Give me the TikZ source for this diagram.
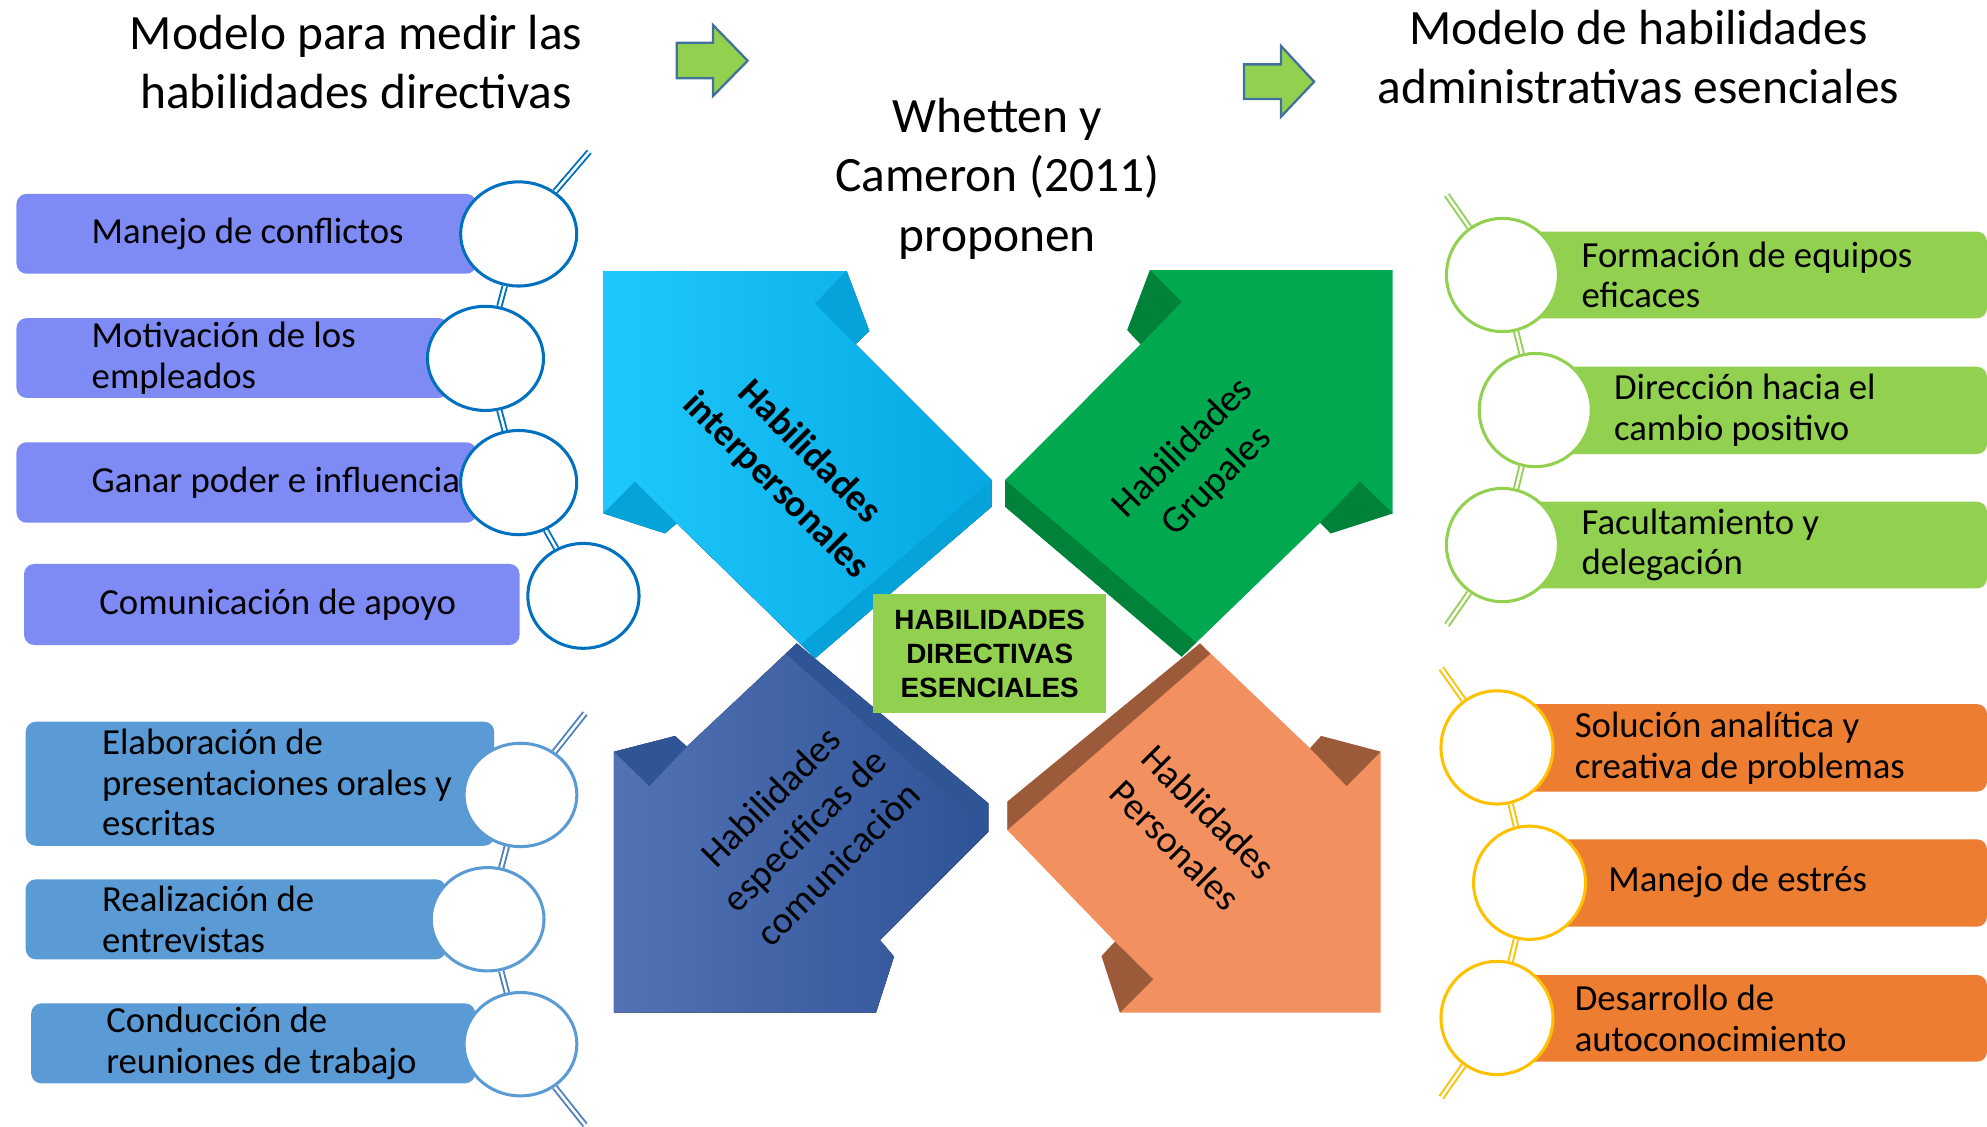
\documentclass[tikz,border=0pt]{standalone}
\usepackage{fontspec}
\setmainfont{Carlito}
\newfontfamily\capsfont{Liberation Sans}
\usetikzlibrary{shapes.geometric}

\definecolor{itemA}{HTML}{7E8BF4}
\definecolor{ringA}{HTML}{0070C0}
\definecolor{itemB}{HTML}{5B9BD5}
\definecolor{linkB}{HTML}{4F81BD}
\definecolor{itemC}{HTML}{92D050}
\definecolor{itemD}{HTML}{ED7D31}
\definecolor{ringD}{HTML}{FFC000}
\definecolor{pointerline}{HTML}{41719C}
\definecolor{skyL}{HTML}{1EC8FC}
\definecolor{skyR}{HTML}{05A8E2}
\definecolor{skyD}{HTML}{06A2DA}
\definecolor{grnM}{HTML}{00A84F}
\definecolor{grnD}{HTML}{00823A}
\definecolor{navL}{HTML}{5272B5}
\definecolor{navR}{HTML}{2D5396}
\definecolor{navD}{HTML}{2F5597}
\definecolor{orgM}{HTML}{F2915F}
\definecolor{orgD}{HTML}{9B5A3A}

\begin{document}
\begin{tikzpicture}[x=0.5pt, y=-0.5pt,
    heading/.style={align=center, inner sep=0pt, font=\fontsize{19.5}{23.6}\selectfont},
    itemtext/.style={anchor=west, align=left, inner sep=0pt, font=\fontsize{14.5}{16}\selectfont},
    arrowtext/.style={align=center, inner sep=0pt, font=\fontsize{15}{18.7}\selectfont},
    ring/.style={ellipse, fill=white, line width=1.2pt, inner sep=0pt, minimum width=45.8pt, minimum height=41.1pt},
    roundring/.style={ring, minimum width=44.2pt, minimum height=44.7pt},
    link/.style={line width=0.75pt, double=white, double distance=1pt},
    strip/.style={rounded corners=4pt}]
  \useasboundingbox (0,0) rectangle (1568,889);

  % titles
  \node[heading] (leftTitle) at (281,49) {Modelo para medir las\\habilidades directivas};
  \node[heading] (rightTitle) at (1293,45) {Modelo de habilidades\\administrativas esenciales};
  \node[heading] (authors) at (787,141) {Whetten y\\Cameron (2011)\\proponen};
  \draw[fill=itemC, draw=pointerline, line width=0.9pt]
    (534,33.7) -- (562.6,33.7) -- (562.6,19.7) -- (590,47.9) -- (562.6,75.8) -- (562.6,61.8) -- (534,61.8) -- cycle;
  \draw[fill=itemC, draw=pointerline, line width=0.9pt]
    (981.6,50.8) -- (1010.9,50.8) -- (1010.9,36.3) -- (1037,64.5) -- (1010.9,92.1) -- (1010.9,78.1) -- (981.6,78.1) -- cycle;

  % four arrows round the centre
  \fill[left color=navL, right color=navR] (484.5,799.1) -- (691.3,799.1) -- (705.5,754.9) -- (694.4,741.8) -- (779.9,656.3)
    -- (779.9,633.9) -- (628.7,507.7) -- (541.9,589.2) -- (532.7,580.8) -- (484.5,593.2) -- cycle;
  \fill[navD] (484.5,593.2) -- (532.7,580.8) -- (541.9,589.2) -- (512.4,620.3) -- cycle;
  \fill[navD] (779.9,633.9) -- (628.7,507.7) -- (620,515.8) -- (779.9,656.3) -- cycle;
  \node[arrowtext, rotate=45] (commSkills) at (634.5,655) {Habilidades\\especificas de\\comunicaciòn};

  \fill[orgM] (1089.5,799.1) -- (883.8,799.1) -- (869.3,754.4) -- (879.9,743.1) -- (794.9,655.0)
    -- (794.9,632.6) -- (947.0,507.7) -- (1033.8,590.5) -- (1042.5,580.8) -- (1089.5,593.2) -- cycle;
  \fill[orgD] (1089.5,593.2) -- (1042.5,580.8) -- (1033.8,590.5) -- (1062.7,620.3) -- cycle;
  \fill[orgD] (869.3,754.4) -- (879.9,743.1) -- (910.1,772.8) -- (883.8,799.1) -- cycle;
  \fill[orgD] (794.9,632.6) -- (947,507.7) -- (955,516) -- (794.9,655) -- cycle;
  \node[arrowtext, rotate=-45] (ownSkills) at (940.7,653.9) {Hablidades\\Personales};

  \fill[left color=skyL, right color=skyR] (476.1,213.9) -- (668.1,213.9) -- (686.0,261.2) -- (675.2,271.5) -- (782.6,378.8)
    -- (782.6,399.8) -- (643.2,519.5) -- (534.0,413.0) -- (524.8,420.9) -- (476.1,405.1) -- cycle;
  \fill[skyD] (643.2,239.4) -- (668.1,213.9) -- (686.0,261.2) -- (675.2,271.5) -- cycle;
  \fill[skyD] (476.1,405.1) -- (501.1,380.1) -- (534.0,413.0) -- (524.8,420.9) -- cycle;
  \fill[skyD] (782.6,378.8) -- (782.6,399.8) -- (643.2,519.5) -- (632,508.5) -- cycle;
  \node[arrowtext, rotate=-45, font=\fontsize{15}{18.7}\selectfont\bfseries] (peopleSkills) at (625,370) {Habilidades\\interpersonales};

  \fill[grnM] (1099.0,213.1) -- (907.5,213.1) -- (889.6,260.4) -- (900.1,271.7) -- (793.1,378.8)
    -- (793.1,399.8) -- (932.5,518.2) -- (1041.7,412.5) -- (1050.1,420.9) -- (1099.0,405.1) -- cycle;
  \fill[grnD] (907.5,213.1) -- (932.5,238.1) -- (900.1,271.7) -- (889.6,260.4) -- cycle;
  \fill[grnD] (1099.0,405.1) -- (1073.2,380.1) -- (1041.7,412.5) -- (1050.1,420.9) -- cycle;
  \fill[grnD] (793.1,378.8) -- (793.1,399.8) -- (932.5,518.2) -- (944,507) -- cycle;
  \node[arrowtext, rotate=45] (groupSkills) at (947,367) {Habilidades\\Grupales};

  \node[fill=itemC, minimum width=92pt, minimum height=47pt, inner sep=0pt, align=center,
        font=\capsfont\bfseries\fontsize{11}{13.3}\selectfont] (core) at (781,516) {HABILIDADES\\DIRECTIVAS\\ESENCIALES};

  % left, first list
  \fill[itemA, strip] (13,153) rectangle (376,216);
  \fill[itemA, strip] (13,251) rectangle (354,314);
  \fill[itemA, strip] (13,349) rectangle (376,412.5);
  \fill[itemA, strip] (19,445) rectangle (410,509);
  \node[itemtext] (tA1) at (72,184.6) {Manejo de conflictos};
  \node[itemtext] (tA2) at (72,282.5) {Motivación de los\\empleados};
  \node[itemtext] (tA3) at (72,380.8) {Ganar poder e influencia};
  \node[itemtext] (tA4) at (78,477) {Comunicación de apoyo};
  \node[ring, draw=ringA] (a1) at (409.3,184.6) {};
  \node[ring, draw=ringA] (a2) at (383.1,282.8) {};
  \node[ring, draw=ringA] (a3) at (409.3,380.8) {};
  \node[ring, draw=ringA, minimum width=43.9pt, minimum height=41.4pt] (a4) at (460.4,470.2) {};
  \coordinate (aTop) at (465,119.7);
  \draw[link, ringA] (aTop) -- (a1);
  \draw[link, ringA] (a1) -- (a2);
  \draw[link, ringA] (a2) -- (a3);
  \draw[link, ringA] (a3) -- (a4);

  % left, second list
  \fill[itemB, strip] (20.3,569.5) rectangle (390,667.4);
  \fill[itemB, strip] (20.3,693.9) rectangle (352,757);
  \fill[itemB, strip] (24.6,791.8) rectangle (375,854.9);
  \node[itemtext] (tB1) at (80.2,617.5) {Elaboración de\\presentaciones orales y\\escritas};
  \node[itemtext] (tB2) at (80.2,725.4) {Realización de\\entrevistas};
  \node[itemtext] (tB3) at (83.5,823.4) {Conducción de\\reuniones de trabajo};
  \node[ring, draw=itemB, minimum width=44.5pt, minimum height=40.8pt] (b1) at (410.7,627.3) {};
  \node[ring, draw=itemB, minimum width=44.5pt, minimum height=40.8pt] (b2) at (384.8,725.4) {};
  \node[ring, draw=itemB, minimum width=44.5pt, minimum height=40.8pt] (b3) at (410.7,824) {};
  \coordinate (bTop) at (461.7,562.9);
  \coordinate (bBot) at (461.7,887.8);
  \draw[link, linkB] (bTop) -- (b1);
  \draw[link, linkB] (b1) -- (b2);
  \draw[link, linkB] (b2) -- (b3);
  \draw[link, linkB] (b3) -- (bBot);

  % right, first list
  \fill[itemC, strip] (1185,182.8) rectangle (1568,251.2);
  \fill[itemC, strip] (1211,289.4) rectangle (1568,358.3);
  \fill[itemC, strip] (1185,395.9) rectangle (1568,464.3);
  \node[itemtext] (tC1) at (1247.7,217) {Formación de equipos\\eficaces};
  \node[itemtext] (tC2) at (1273.3,323.6) {Dirección hacia el\\cambio positivo};
  \node[itemtext] (tC3) at (1247.7,430.1) {Facultamiento y\\delegación};
  \node[roundring, draw=itemC] (c1) at (1185.6,217) {};
  \node[roundring, draw=itemC] (c2) at (1211.5,323.6) {};
  \node[roundring, draw=itemC] (c3) at (1185.6,430.1) {};
  \coordinate (cTop) at (1141.7,153.9);
  \coordinate (cBot) at (1141.7,493.2);
  \draw[link, itemC] (cTop) -- (c1);
  \draw[link, itemC] (c1) -- (c2);
  \draw[link, itemC] (c2) -- (c3);
  \draw[link, itemC] (c3) -- (cBot);

  % right, second list
  \fill[itemD, strip] (1181,555.6) rectangle (1568,624.7);
  \fill[itemD, strip] (1207,662.3) rectangle (1568,731.3);
  \fill[itemD, strip] (1181,769.4) rectangle (1568,837.8);
  \node[itemtext] (tD1) at (1242.3,590.5) {Solución analítica y\\creativa de problemas};
  \node[itemtext] (tD2) at (1268.8,695.8) {Manejo de estrés};
  \node[itemtext] (tD3) at (1242.3,803.6) {Desarrollo de\\autoconocimiento};
  \node[roundring, draw=ringD] (d1) at (1181.3,589.8) {};
  \node[roundring, draw=ringD] (d2) at (1207,696.6) {};
  \node[roundring, draw=ringD] (d3) at (1181.3,803.3) {};
  \coordinate (dTop) at (1137.3,527.4);
  \coordinate (dBot) at (1137.3,866);
  \draw[link, ringD] (dTop) -- (d1);
  \draw[link, ringD] (d1) -- (d2);
  \draw[link, ringD] (d2) -- (d3);
  \draw[link, ringD] (d3) -- (dBot);
\end{tikzpicture}
\end{document}
